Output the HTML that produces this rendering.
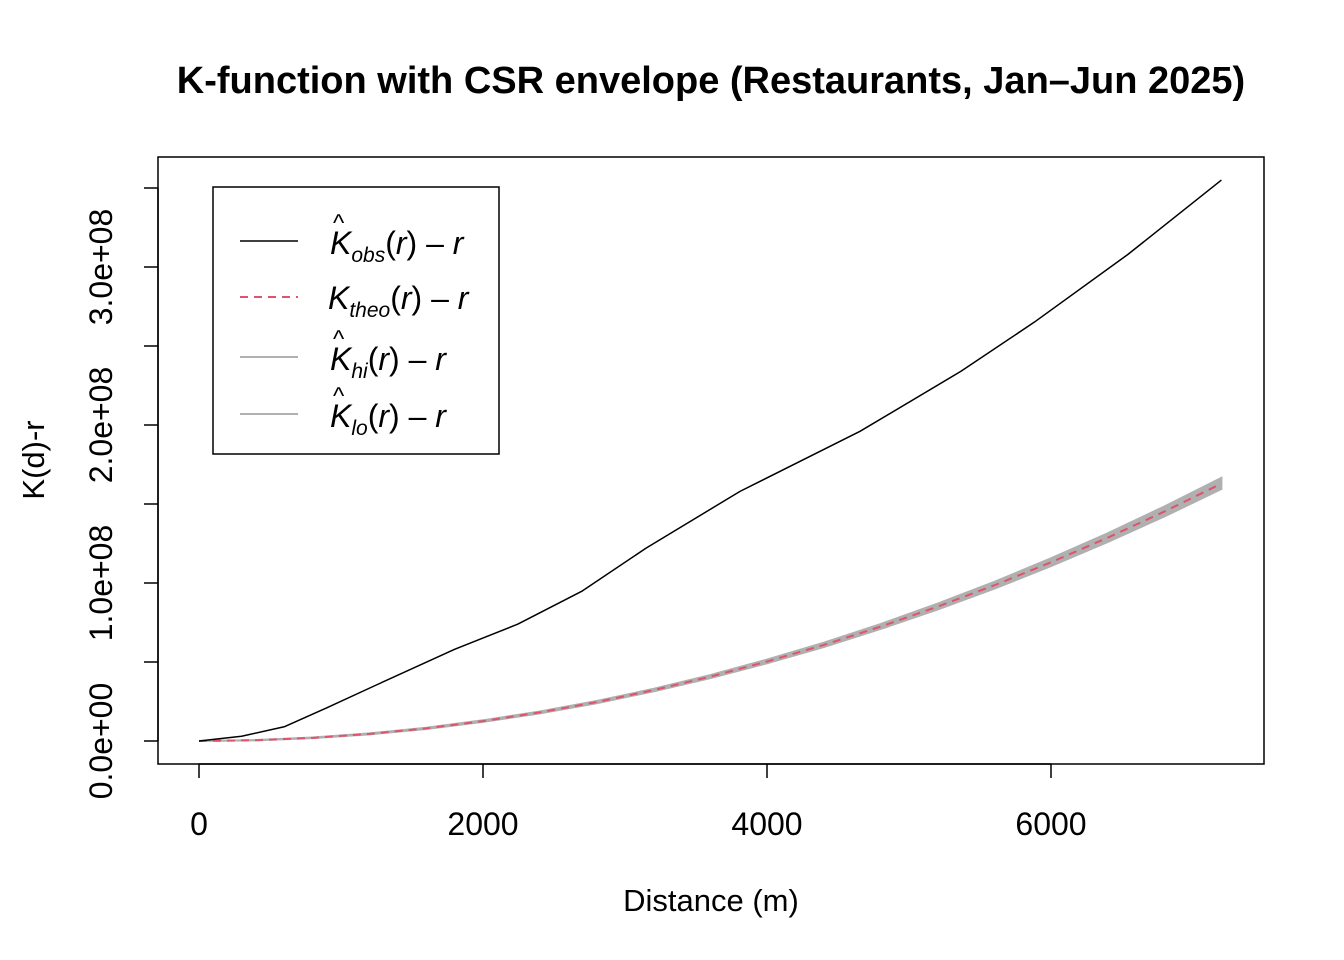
<!DOCTYPE html>
<html><head><meta charset="utf-8"><style>
body{margin:0;background:#fff}
svg{display:block;font-family:"Liberation Sans",Arial,sans-serif}
</style></head><body>
<svg id="chart" width="1344" height="960" viewBox="0 0 1344 960">
<text x="711" y="93" text-anchor="middle" font-size="38" font-weight="bold">K-function with CSR envelope (Restaurants, Jan–Jun 2025)</text>
<rect x="158" y="157" width="1106" height="607" fill="none" stroke="#000" stroke-width="1.5"/>
<g id="xaxis"></g>
<g id="yaxis"></g>
<text x="711" y="911" text-anchor="middle" font-size="31">Distance (m)</text>
<text transform="translate(44,460) rotate(-90)" text-anchor="middle" font-size="31">K(d)-r</text>
<g id="series"></g>
<g>
<rect x="213" y="187" width="286" height="267" fill="#fff" stroke="#000" stroke-width="1.5"/>
<line x1="240" y1="241" x2="298" y2="241" stroke="#000" stroke-width="1.5"/>
<line x1="240" y1="297" x2="298" y2="297" stroke="#DF536B" stroke-width="2" stroke-dasharray="8,6"/>
<line x1="240" y1="357" x2="298" y2="357" stroke="#b0b0b0" stroke-width="2"/>
<line x1="240" y1="414" x2="298" y2="414" stroke="#b0b0b0" stroke-width="2"/>
<g font-size="32" font-style="italic">
<text x="330" y="254">K<tspan font-size="21" dy="8">obs</tspan><tspan dy="-8" font-style="normal">(</tspan>r<tspan font-style="normal">) – </tspan>r</text>
<text x="333" y="231" font-size="24" font-style="normal">^</text>
<text x="328" y="309">K<tspan font-size="21" dy="8">theo</tspan><tspan dy="-8" font-style="normal">(</tspan>r<tspan font-style="normal">) – </tspan>r</text>
<text x="330" y="370">K<tspan font-size="21" dy="8">hi</tspan><tspan dy="-8" font-style="normal">(</tspan>r<tspan font-style="normal">) – </tspan>r</text>
<text x="333" y="347" font-size="24" font-style="normal">^</text>
<text x="330" y="427">K<tspan font-size="21" dy="8">lo</tspan><tspan dy="-8" font-style="normal">(</tspan>r<tspan font-style="normal">) – </tspan>r</text>
<text x="333" y="404" font-size="24" font-style="normal">^</text>
</g>
</g>
</svg>
<script>
const distObs=[0,300,600,900,1262,1800,2246,2700,3147,3810,4655,5366,5881,6542,7200];
const kObs=[0,0.03e8,0.09e8,0.21e8,0.36e8,0.58e8,0.74e8,0.95e8,1.22e8,1.58e8,1.96e8,2.34e8,2.65e8,3.08e8,3.55e8];
const distEnv=[0,400,800,1200,1600,2000,2400,2800,3200,3600,4000,4400,4800,5200,5600,6000,6400,6800,7200];
const kTheo=[0,0.005e8,0.020e8,0.045e8,0.080e8,0.126e8,0.181e8,0.246e8,0.322e8,0.407e8,0.503e8,0.608e8,0.724e8,0.850e8,0.985e8,1.131e8,1.287e8,1.453e8,1.629e8];
const kHi=[0,0.006e8,0.022e8,0.048e8,0.084e8,0.131e8,0.187e8,0.253e8,0.330e8,0.417e8,0.515e8,0.622e8,0.740e8,0.869e8,1.007e8,1.156e8,1.315e8,1.485e8,1.665e8];
const kLo=[0,0.004e8,0.018e8,0.042e8,0.076e8,0.121e8,0.175e8,0.239e8,0.314e8,0.398e8,0.492e8,0.595e8,0.709e8,0.832e8,0.964e8,1.107e8,1.260e8,1.422e8,1.595e8];
const xTicks=[0,2000,4000,6000];
const yTicks=[0,0.5e8,1e8,1.5e8,2e8,2.5e8,3e8,3.5e8];
const yLabels=["0.0e+00","","1.0e+08","","2.0e+08","","3.0e+08",""];
const NS="http://www.w3.org/2000/svg";
const X=v=>199+v*0.142;
const Y=v=>741-v*158/1e8;
function mk(tag,attrs,parent){const e=document.createElementNS(NS,tag);for(const k in attrs)e.setAttribute(k,attrs[k]);parent.appendChild(e);return e;}
const xa=document.getElementById('xaxis'),ya=document.getElementById('yaxis'),sg=document.getElementById('series');
mk('line',{x1:X(0),x2:X(6000),y1:764,y2:764,stroke:'#000','stroke-width':1.5},xa);
xTicks.forEach(t=>{
 const tk=mk('line',{x1:X(t),x2:X(t),y1:764,y2:778,stroke:'#000','stroke-width':1.5},xa);
 
 
 const tx=mk('text',{x:X(t),y:835,'text-anchor':'middle','font-size':32},xa);tx.textContent=t;
 
 
});
mk('line',{x1:158,x2:158,y1:Y(0),y2:Y(3.5e8),stroke:'#000','stroke-width':1.5},ya);
yTicks.forEach((t,i)=>{
 const tk=mk('line',{x1:144,x2:158,y1:Y(t),y2:Y(t),stroke:'#000','stroke-width':1.5},ya);
 
 
 if(yLabels[i]){const tx=mk('text',{transform:`translate(112,${Y(t)}) rotate(-90)`,'text-anchor':'middle','font-size':32},ya);tx.textContent=yLabels[i];
 
 }
});
let d='M'+distEnv.map((r,i)=>X(r)+','+Y(kHi[i])).join('L')+'L'+distEnv.slice().reverse().map((r,j)=>{const i=distEnv.length-1-j;return X(r)+','+Y(kLo[i]);}).join('L')+'Z';
const band=mk('path',{d:d,fill:'#b0b0b0',stroke:'#b0b0b0','stroke-width':2},sg);


const pts=(xs,ys)=>xs.map((r,i)=>X(r)+','+Y(ys[i])).join(' ');
const th=mk('polyline',{points:pts(distEnv,kTheo),fill:'none',stroke:'#DF536B','stroke-width':2,'stroke-dasharray':'8,6'},sg);


const ob=mk('polyline',{points:pts(distObs,kObs),fill:'none',stroke:'#000','stroke-width':1.5,'stroke-linejoin':'round'},sg);


</script>
</body></html>
